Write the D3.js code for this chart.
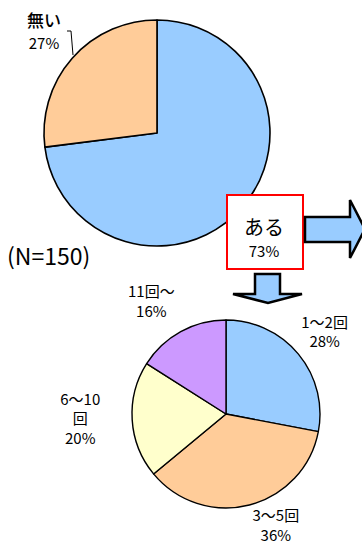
<!DOCTYPE html>
<html>
<head>
<meta charset="utf-8">
<script src="https://cdn.jsdelivr.net/npm/d3@7"></script>
<style>
  html, body { margin: 0; padding: 0; background: #fff; }
  svg { display: block; }
  text { font-family: "Noto Sans CJK JP", "Noto Sans", sans-serif; fill: #000; }
</style>
</head>
<body>
<svg id="chart" width="362" height="550"></svg>
<script>
// Overall: do they have the experience (N=150)
const topCategories = ["ある", "無い"];
const topValues = [73, 27];
const topColors = ["#99CCFF", "#FFCC99"];

// Breakdown of those who answered "ある": number of times
const subCategories = ["1～2回", "3～5回", "6～10回", "11回～"];
const subValues = [28, 36, 20, 16];
const subColors = ["#99CCFF", "#FFCC99", "#FFFFCC", "#CC99FF"];
// label lines for the breakdown pie (category may wrap)
const subLabelLines = [["1～2回"], ["3～5回"], ["6～10", "回"], ["11回～"]];

const sampleLabel = "(N=150)";

const svg = d3.select("#chart");

const pie = d3.pie().sort(null).value(d => d.value);

// ---------- upper pie ----------
const mainPie = { cx: 157, cy: 133, r: 113 };
const topData = pie(topCategories.map((c, i) => ({ cat: c, value: topValues[i], color: topColors[i] })));
const topArc = d3.arc().innerRadius(0).outerRadius(mainPie.r);

const gTop = svg.append("g").attr("transform", `translate(${mainPie.cx},${mainPie.cy})`);
gTop.selectAll("path").data(topData).join("path")
  .attr("d", topArc)
  .attr("fill", d => d.data.color)
  .attr("stroke", "#000")
  .attr("stroke-width", 1.6)
  .attr("stroke-linejoin", "round");

// "無い" label with leader line
const noIdx = topCategories.indexOf("無い");
svg.append("path")
  .attr("d", "M67,31 L71,31 L73,55")
  .attr("fill", "none").attr("stroke", "#000").attr("stroke-width", 1);
svg.append("text").attr("x", 44).attr("y", 27).attr("text-anchor", "middle")
  .attr("font-size", 17).attr("font-weight", 500).text(topCategories[noIdx]);
svg.append("text").attr("x", 44).attr("y", 49).attr("text-anchor", "middle")
  .attr("font-size", 15).text(topValues[noIdx] + "%");

// sample size
svg.append("text").attr("x", 7).attr("y", 265)
  .attr("font-size", 23).text(sampleLabel);

// ---------- callout box for "ある" ----------
const yesIdx = topCategories.indexOf("ある");
svg.append("rect")
  .attr("x", 227).attr("y", 195).attr("width", 76).attr("height", 74)
  .attr("fill", "#fff").attr("stroke", "#FF0000").attr("stroke-width", 2);
svg.append("text").attr("x", 264).attr("y", 235).attr("text-anchor", "middle")
  .attr("font-size", 20).text(topCategories[yesIdx]);
svg.append("text").attr("x", 264).attr("y", 257).attr("text-anchor", "middle")
  .attr("font-size", 15).text(topValues[yesIdx] + "%");

// block arrows
const arrowStyle = sel => sel.attr("fill", "#99CCFF").attr("stroke", "#000")
  .attr("stroke-width", 2.5).attr("stroke-linejoin", "miter");
svg.append("path")
  .attr("d", "M305,217 L350,217 L350,200 L365,229 L350,258 L350,242 L305,242 Z")
  .call(arrowStyle);
svg.append("path")
  .attr("d", "M255,274 L280,274 L280,294 L302,294 L268,303 L233,294 L255,294 Z")
  .call(arrowStyle);

// ---------- lower pie ----------
const subPie = { cx: 226, cy: 414, r: 94 };
const subData = pie(subCategories.map((c, i) => ({ cat: c, value: subValues[i], color: subColors[i], lines: subLabelLines[i] })));
const subArc = d3.arc().innerRadius(0).outerRadius(subPie.r);

const gSub = svg.append("g").attr("transform", `translate(${subPie.cx},${subPie.cy})`);
gSub.selectAll("path").data(subData).join("path")
  .attr("d", subArc)
  .attr("fill", d => d.data.color)
  .attr("stroke", "#000")
  .attr("stroke-width", 1.4)
  .attr("stroke-linejoin", "round");

// labels placed outside each slice, with small nudges
const labelRadius = 128;
const nudges = [[0, 0], [18, -12], [-18, -3], [-13, 0]];
const lineGap = 19.5;
subData.forEach((d, i) => {
  const a = (d.startAngle + d.endAngle) / 2;
  const lx = Math.sin(a) * labelRadius + nudges[i][0];
  const ly = -Math.cos(a) * labelRadius + nudges[i][1];
  const lines = d.data.lines.concat([d.data.value + "%"]);
  const y0 = ly - (lines.length - 1) * lineGap / 2 + 5;
  const t = gSub.append("text").attr("text-anchor", "middle").attr("font-size", 15);
  lines.forEach((s, k) => {
    t.append("tspan").attr("x", lx).attr("y", y0 + k * lineGap).text(s);
  });
});
</script>
</body>
</html>
